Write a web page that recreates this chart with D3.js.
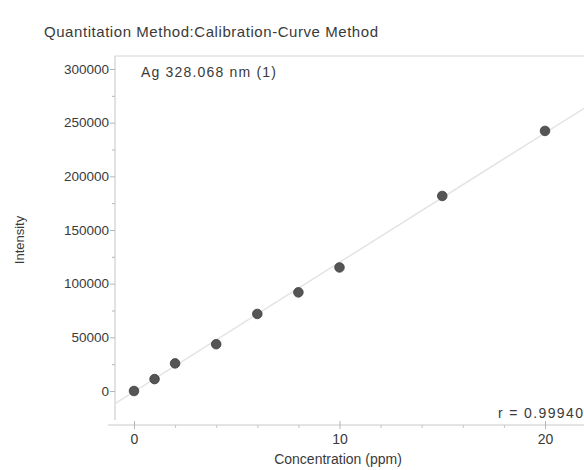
<!DOCTYPE html>
<html>
<head>
<meta charset="utf-8">
<script src="https://cdn.jsdelivr.net/npm/d3@7"></script>
<style>
  body { margin: 0; background: #fff; }
  text { font-family: "Liberation Sans", Arial, sans-serif; fill: #3a3a3a; }
</style>
</head>
<body>
<svg class="chart" width="584" height="470"></svg>
<script>
// calibration standards
const concentrations = [0, 1, 2, 4, 6, 8, 10, 15, 20]
const intensities = [0, 11100, 25700, 43600, 71800, 91900, 115100, 181700, 242300]
const yTicks = [0, 50000, 100000, 150000, 200000, 250000, 300000]
const xTicks = [0, 10, 20]
const fitLine = [[-0.9, -11500], [22, 264500]]  // regression line as printed
const title = 'Quantitation Method:Calibration-Curve Method'
const label = 'Ag 328.068 nm (1)'
const rText = 'r = 0.99940'

let svg = d3.select('.chart'),
    margin = {top: 56, right: 0, bottom: 45, left: 115},
    width = 584 - margin.left - margin.right,
    height = 470 - margin.top - margin.bottom

let x = d3.scaleLinear().domain([0, 20]).range([134 - margin.left, 545 - margin.left]),
    y = d3.scaleLinear().domain([0, 300000]).range([391 - margin.top, 69 - margin.top])

let g = svg.append('g').attr('transform', 'translate(' + margin.left + ',' + margin.top + ')')

svg.append('defs').append('clipPath').attr('id', 'clip')
  .append('rect').attr('x', -6).attr('y', 0).attr('width', width + 6).attr('height', height)

// frame: top border
g.append('line').attr('x1', 0).attr('x2', width).attr('y1', 0).attr('y2', 0)
  .attr('stroke', '#d6d6d6').attr('stroke-width', 1.2)

// y axis with minor ticks
let yMinor = d3.axisLeft(y).tickValues(d3.range(25000, 300000, 50000)).tickSize(3).tickFormat('')
g.append('g').call(yMinor).call(a => {
  a.select('.domain').remove()
  a.selectAll('line').attr('stroke', '#b5b5b5')
})
g.append('g').call(d3.axisLeft(y).tickValues(yTicks).tickSize(5).tickPadding(1).tickFormat(d3.format('d')))
  .call(a => {
    a.select('.domain').attr('stroke', '#c4c4c4').attr('d', 'M0,0V' + (height - 5))
    a.selectAll('.tick line').attr('stroke', '#b5b5b5')
    a.selectAll('.tick text').attr('font-size', 13.5).style('font-family', '"Liberation Sans", Arial, sans-serif').attr('fill', '#3a3a3a')
  })

// x axis
let xg = g.append('g').attr('transform', 'translate(0,' + height + ')')
xg.call(d3.axisBottom(x).tickValues(d3.range(2, 22, 2).filter(d => d % 10)).tickSize(3).tickFormat(''))
  .call(a => { a.select('.domain').remove(); a.selectAll('line').attr('stroke', '#c4c4c4') })
xg.append('g').call(d3.axisBottom(x).tickValues(xTicks).tickSize(5).tickPadding(4))
  .call(a => {
    a.select('.domain').attr('stroke', '#c8c8c8').attr('d', 'M-7,0H' + width)
    a.selectAll('.tick line').attr('stroke', '#b5b5b5').attr('y1', -4).attr('y2', 4)
    a.selectAll('.tick text').attr('font-size', 14).style('font-family', '"Liberation Sans", Arial, sans-serif').attr('fill', '#3a3a3a')
  })

// fit line
let line = d3.line().x(d => x(d[0])).y(d => y(d[1]))
g.append('path').datum(fitLine).attr('d', line).attr('clip-path', 'url(#clip)')
  .attr('fill', 'none').attr('stroke', '#e4e4e4').attr('stroke-width', 1.5)

// points
g.selectAll('circle').data(concentrations).enter().append('circle')
  .attr('cx', d => x(d))
  .attr('cy', (d, i) => y(intensities[i]))
  .attr('r', 4.8)
  .attr('fill', '#555')
  .attr('stroke', '#3c3c3c').attr('stroke-width', 0.8)

// texts
svg.append('text').attr('x', 44).attr('y', 37).attr('font-size', 15).attr('textLength', 334).text(title)
svg.append('text').attr('x', 141).attr('y', 77).attr('font-size', 14).attr('textLength', 135).text(label)
svg.append('text').attr('x', 583).attr('y', 418).attr('text-anchor', 'end').attr('font-size', 14).attr('textLength', 85).text(rText)
svg.append('text').attr('x', 338).attr('y', 464).attr('text-anchor', 'middle').attr('font-size', 14).text('Concentration (ppm)')
svg.append('text').attr('transform', 'translate(24,240) rotate(-90)').attr('text-anchor', 'middle')
  .attr('font-size', 13).text('Intensity')
</script>
</body>
</html>
